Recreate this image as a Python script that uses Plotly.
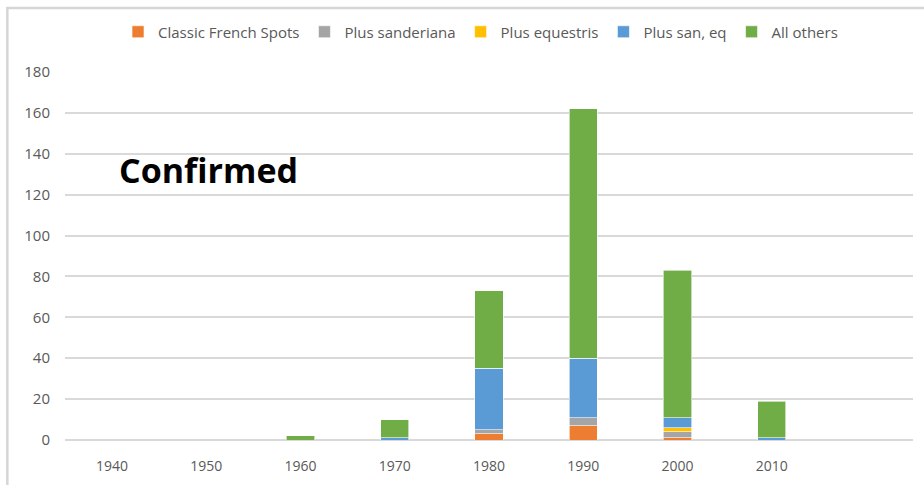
import plotly.graph_objects as go

decades = ["1940", "1950", "1960", "1970", "1980", "1990", "2000", "2010", "2020"]
tick_labels = ["1940", "1950", "1960", "1970", "1980", "1990", "2000", "2010", ""]

classic_french_spots = [0, 0, 0, 0, 3, 7, 1, 0, 0]
plus_sanderiana = [0, 0, 0, 0, 2, 4, 3, 0, 0]
plus_equestris = [0, 0, 0, 0, 0, 0, 2, 0, 0]
plus_san_eq = [0, 0, 0, 1, 30, 29, 5, 1, 0]
all_others = [0, 0, 2, 9, 38, 122, 72, 18, 0]

series = [
    ("Classic French Spots", classic_french_spots, "#ED7D31"),
    ("Plus sanderiana", plus_sanderiana, "#A5A5A5"),
    ("Plus equestris", plus_equestris, "#FFC000"),
    ("Plus san, eq", plus_san_eq, "#5B9BD5"),
    ("All others", all_others, "#70AD47"),
]

fig = go.Figure()
for name, vals, color in series:
    fig.add_trace(go.Bar(
        x=decades, y=vals, name=name,
        marker=dict(color=color, line=dict(color="white", width=0.6)),
        width=0.3,
    ))

fig.update_layout(
    barmode="stack",
    width=924, height=485,
    margin=dict(l=65, r=11, t=72, b=45),
    paper_bgcolor="white", plot_bgcolor="white",
    font=dict(family="Open Sans, sans-serif", color="#595959", size=14),
    legend=dict(orientation="h", x=0.49, xanchor="center", y=1 - 32 / 485, yanchor="middle",
                yref="container", font=dict(size=15, color="#595959"),
                itemwidth=30, traceorder="normal", bgcolor="rgba(0,0,0,0)"),
    showlegend=True,
    xaxis=dict(type="category", tickvals=decades, ticktext=tick_labels, automargin=False,
               showgrid=False, showline=False, ticks="", ticklabelstandoff=16,
               tickfont=dict(size=14, color="#595959")),
    yaxis=dict(range=[0, 180], dtick=20, gridcolor="#D9D9D9", gridwidth=1.5, automargin=False,
               zeroline=True, zerolinecolor="#D9D9D9", zerolinewidth=1.5,
               ticks="", ticklabelstandoff=14, tickfont=dict(size=15, color="#595959")),
    annotations=[dict(text="<b>Confirmed</b>", x=0.0613, y=0.734, xref="paper", yref="paper",
                      xanchor="left", yanchor="middle", showarrow=False,
                      font=dict(size=34, color="black", family="Open Sans, sans-serif"))],
    shapes=[
        dict(type="path", xref="paper", yref="paper",
             path="M -0.068,-0.3 L -0.068,1.174 L 1.05,1.174",
             layer="above", line=dict(color="#D6D6D6", width=2.5), fillcolor="rgba(0,0,0,0)"),
    ],
)

fig.write_html("out.html", config={"displayModeBar": False},
               post_script="document.body.style.margin='0';")
